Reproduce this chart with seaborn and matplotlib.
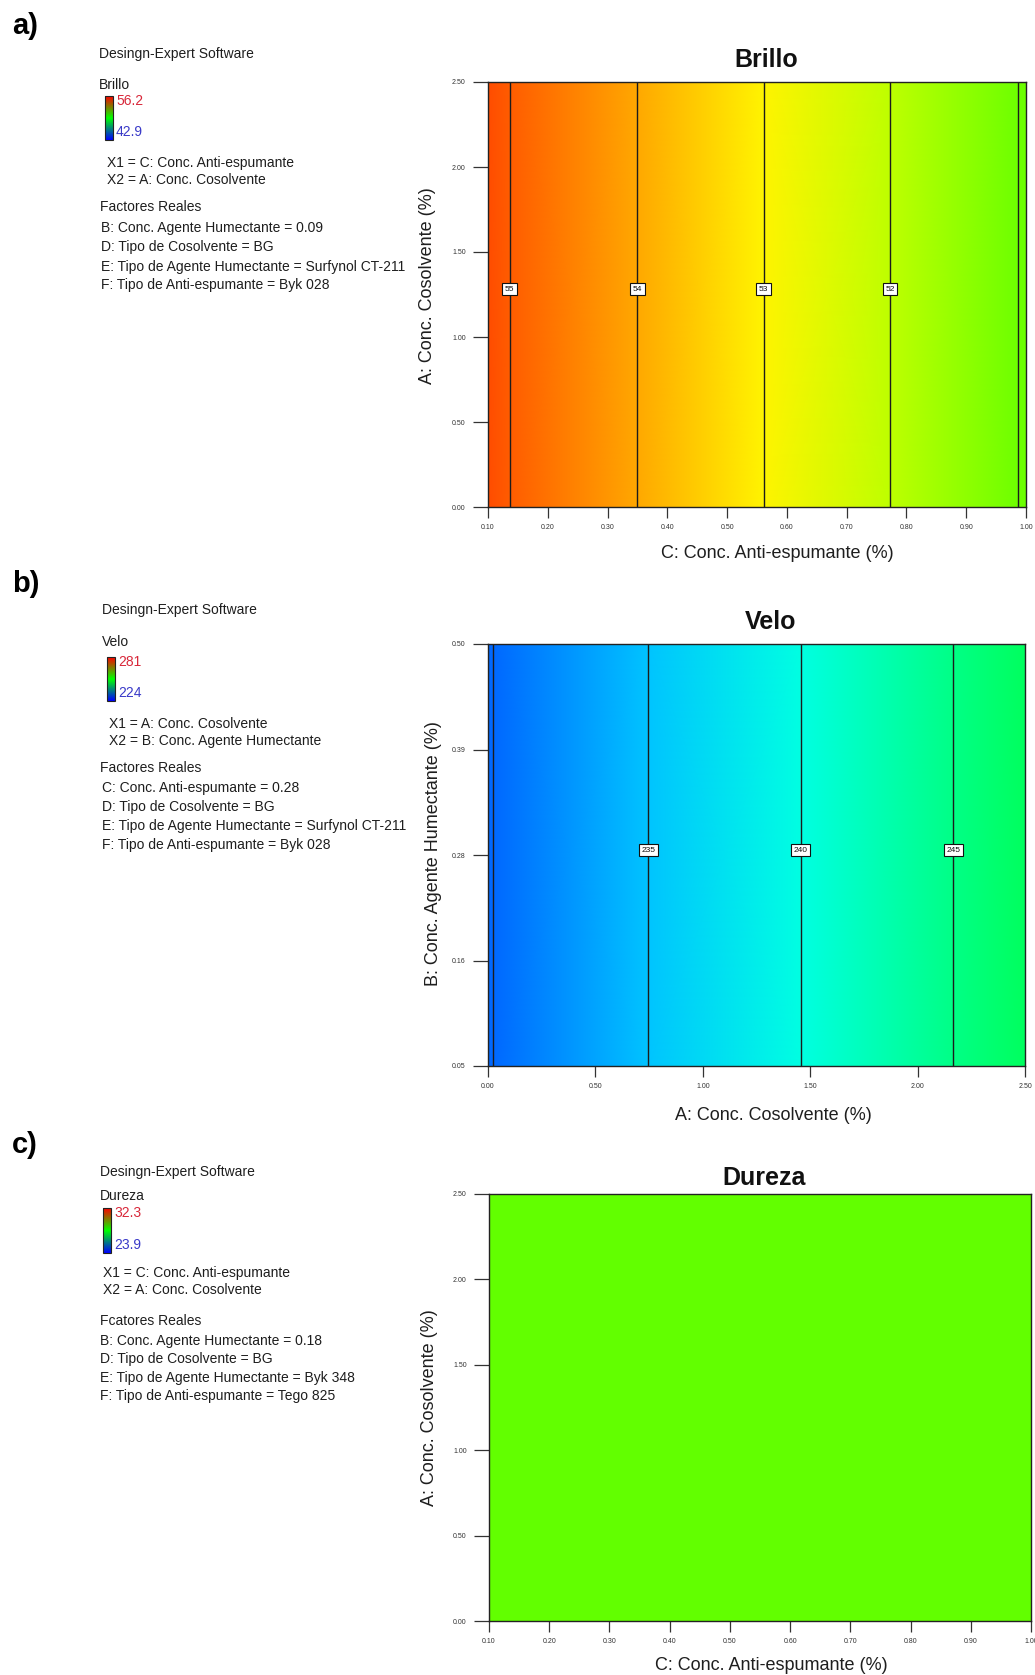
import numpy as np
import matplotlib
matplotlib.use('Agg')
import matplotlib.pyplot as plt
import seaborn as sns
from matplotlib.colors import Normalize
from matplotlib.cm import ScalarMappable

# ---- values ----
# a) Brillo: only changes along C (Conc. Anti-espumante)
brillo_x = [0.10, 0.136, 0.350, 0.561, 0.773, 0.986, 1.00]
brillo_z = [55.17, 55.0, 54.0, 53.0, 52.0, 51.0, 50.93]
brillo_levels = [51, 52, 53, 54, 55]
brillo_labels = [55, 54, 53, 52]
brillo_min, brillo_max = 42.9, 56.2
brillo_xticks = [0.10, 0.20, 0.30, 0.40, 0.50, 0.60, 0.70, 0.80, 0.90, 1.00]
brillo_yticks = [0.00, 0.50, 1.00, 1.50, 2.00, 2.50]

# b) Velo: only changes along A (Conc. Cosolvente)
velo_x = [0.00, 0.025, 0.746, 1.457, 2.167, 2.50]
velo_z = [229.8, 230.0, 235.0, 240.0, 245.0, 247.3]
velo_levels = [230, 235, 240, 245]
velo_labels = [235, 240, 245]
velo_min, velo_max = 224, 281
velo_xticks = [0.00, 0.50, 1.00, 1.50, 2.00, 2.50]
velo_yticks = [0.05, 0.1625, 0.275, 0.3875, 0.50]
velo_yticklabels = ['0.05', '0.16', '0.28', '0.39', '0.50']

# c) Dureza: flat surface
dureza_x = [0.10, 1.00]
dureza_z = [28.9, 28.9]
dureza_min, dureza_max = 23.9, 32.3

sns.set_theme(style='white')
plt.rcParams['font.family'] = ['Liberation Sans', 'DejaVu Sans']

W, H = 1035, 1675
fig = plt.figure(figsize=(W / 100, H / 100), dpi=100)

surf_cmap = sns.blend_palette(['#0000ff', '#00ffff', '#00ff00', '#ffff00', '#ff0000'], as_cmap=True)
mini_cmap = sns.blend_palette(['#0000ff', '#00ff00', '#ff0000'], as_cmap=True)


def px_axes(l, t, r, b):
    return fig.add_axes([l / W, 1 - b / H, (r - l) / W, (b - t) / H])


def ftext(x, y, s, **kw):
    kw.setdefault('fontsize', 10)
    kw.setdefault('color', '#1e1e1e')
    fig.text(x / W, 1 - y / H, s, va='center', ha='left', **kw)


def side_text(tag, tag_y, left, rows, name, zmin, zmax, bar):
    ftext(12, tag_y, tag, fontsize=21, fontweight='bold', color='black')
    ftext(left[0], rows[0], 'Desingn-Expert Software')
    ftext(left[0], rows[1], name)
    cax = px_axes(*bar)
    cb = fig.colorbar(ScalarMappable(norm=Normalize(zmin, zmax), cmap=mini_cmap), cax=cax)
    cb.set_ticks([])
    cb.outline.set_linewidth(0.8)
    cb.outline.set_edgecolor('#222222')
    ftext(bar[2] + 3, bar[1] + 5, f'{zmax:g}', color='#d8283a')
    ftext(bar[2] + 3, bar[3] - 8, f'{zmin:g}', color='#3a3ac8')


def surface(ax, xs, zs, ylim, zmin, zmax, levels=None, labels=None, label_y=None):
    X, Y = np.meshgrid(xs, ylim)
    Z = np.array([zs, zs])
    ax.pcolormesh(X, Y, Z, cmap=surf_cmap, vmin=zmin, vmax=zmax, shading='gouraud')
    if levels:
        ax.contour(X, Y, Z, levels=levels, colors='#1c1c1c', linewidths=1.0)
        for lv in labels:
            ax.text(xs[zs.index(lv)], label_y, f'{lv:d}', fontsize=6, ha='center', va='center',
                    color='#111111', zorder=5,
                    bbox=dict(boxstyle='square,pad=0.3', fc='white', ec='#111111', lw=0.8))


def dress(ax, box, title, tpos, xlabel, xlpos, ylabel, ylpos, xticks, yticks, yticklabels=None):
    l, t, r, b = box
    w, h = r - l, b - t
    ax.set_xlim(xticks[0], xticks[-1])
    ax.set_ylim(yticks[0], yticks[-1])
    ax.set_xticks(xticks)
    ax.set_xticklabels([f'{v:.2f}' for v in xticks])
    ax.set_yticks(yticks)
    ax.set_yticklabels(yticklabels or [f'{v:.2f}' for v in yticks])
    ax.tick_params(axis='both', which='major', bottom=True, left=True, direction='out',
                   labelsize=5, colors='#333333', width=0.9)
    ax.tick_params(axis='x', length=8, pad=4)
    ax.tick_params(axis='y', length=11, pad=5)
    for sp in ax.spines.values():
        sp.set_visible(True)
        sp.set_color('#222222')
        sp.set_linewidth(1.0)
    ax.set_title(title, fontsize=18, fontweight='bold', x=(tpos[0] - l) / w,
                 y=1 + (t - tpos[1]) / h, pad=0, va='center', color='#111111')
    ax.set_xlabel(xlabel, fontsize=13, va='center', color='#1e1e1e')
    ax.xaxis.set_label_coords((xlpos[0] - l) / w, -(xlpos[1] - b) / h)
    ax.set_ylabel(ylabel, fontsize=13, va='center', color='#1e1e1e')
    ax.yaxis.set_label_coords(-(l - ylpos[0]) / w, (b - ylpos[1]) / h)


# ---------------- a) Brillo ----------------
side_text('a)', 26, (99,), (54, 85), 'Brillo', brillo_min, brillo_max, (105, 96, 113, 140))
ftext(107, 163, 'X1 = C: Conc. Anti-espumante')
ftext(107, 180, 'X2 = A: Conc. Cosolvente')
ftext(100, 207, 'Factores Reales')
ftext(101, 228, 'B: Conc. Agente Humectante = 0.09')
ftext(101, 247, 'D: Tipo de Cosolvente = BG')
ftext(101, 267, 'E: Tipo de Agente Humectante = Surfynol CT-211')
ftext(101, 285, 'F: Tipo de Anti-espumante = Byk 028')

box_a = (488, 82, 1026, 507)
ax_a = px_axes(*box_a)
surface(ax_a, brillo_x, brillo_z, [0.0, 2.5], brillo_min, brillo_max,
        brillo_levels, brillo_labels, 1.28)
dress(ax_a, box_a, 'Brillo', (766, 60), 'C: Conc. Anti-espumante (%)', (777, 553),
      'A: Conc. Cosolvente (%)', (427, 286), brillo_xticks, brillo_yticks)

# ---------------- b) Velo ----------------
side_text('b)', 584, (102,), (610, 642), 'Velo', velo_min, velo_max, (107, 657, 115, 701))
ftext(109, 724, 'X1 = A: Conc. Cosolvente')
ftext(109, 741, 'X2 = B: Conc. Agente Humectante')
ftext(100, 768, 'Factores Reales')
ftext(102, 788, 'C: Conc. Anti-espumante = 0.28')
ftext(102, 807, 'D: Tipo de Cosolvente = BG')
ftext(102, 826, 'E: Tipo de Agente Humectante = Surfynol CT-211')
ftext(102, 845, 'F: Tipo de Anti-espumante = Byk 028')

box_b = (488, 644, 1025, 1066)
ax_b = px_axes(*box_b)
surface(ax_b, velo_x, velo_z, [0.05, 0.50], velo_min, velo_max,
        velo_levels, velo_labels, 0.28)
dress(ax_b, box_b, 'Velo', (771, 622), 'A: Conc. Cosolvente (%)', (773, 1116),
      'B: Conc. Agente Humectante (%)', (434, 854), velo_xticks, velo_yticks, velo_yticklabels)

# ---------------- c) Dureza ----------------
side_text('c)', 1145, (100,), (1172, 1196), 'Dureza', dureza_min, dureza_max, (103, 1208, 111, 1253))
ftext(103, 1273, 'X1 = C: Conc. Anti-espumante')
ftext(103, 1290, 'X2 = A: Conc. Cosolvente')
ftext(100, 1321, 'Fcatores Reales')
ftext(100, 1341, 'B: Conc. Agente Humectante = 0.18')
ftext(100, 1359, 'D: Tipo de Cosolvente = BG')
ftext(100, 1378, 'E: Tipo de Agente Humectante = Byk 348')
ftext(100, 1396, 'F: Tipo de Anti-espumante = Tego 825')

box_c = (489, 1194, 1031, 1621)
ax_c = px_axes(*box_c)
surface(ax_c, dureza_x, dureza_z, [0.0, 2.5], dureza_min, dureza_max)
dress(ax_c, box_c, 'Dureza', (764, 1178), 'C: Conc. Anti-espumante (%)', (771, 1666),
      'A: Conc. Cosolvente (%)', (429, 1408), brillo_xticks, brillo_yticks)

fig.savefig('out.png', dpi=100, facecolor='white')
